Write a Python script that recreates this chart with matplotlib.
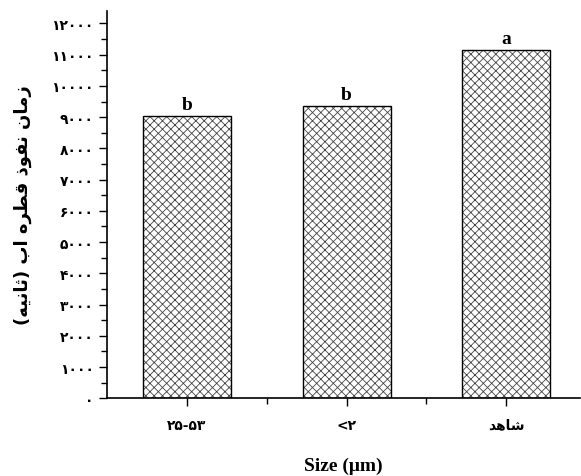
import matplotlib.pyplot as plt
import numpy as np

plt.rcParams['hatch.linewidth'] = 0.6

# Persian text is given in presentation forms, visual (left-to-right) order,
# since matplotlib does no Arabic shaping or bidi
# "زمان نفوذ قطره اب (ثانیه)"
ylabel = "(\uFEEA\uFEF4\uFEE7\uFE8E\uFE9B) \uFE8F\uFE8D \uFEE9\uFEAE\uFEC4\uFED7 \uFEAB\uFEEE\uFED4\uFEE7 \uFEE5\uFE8E\uFEE3\uFEAF"
categories = ["\u06F2\u06F5-\u06F5\u06F3", "<\u06F2", "\uFEAA\uFEEB\uFE8E\uFEB7"]  # ۲۵-۵۳, <۲, شاهد
values = [9050, 9350, 11150]
letters = ["b", "b", "a"]
yticks = [0, 1000, 2000, 3000, 4000, 5000, 6000, 7000, 8000, 9000, 10000, 11000, 12000]
ytick_labels = ["\u06F0", "\u06F1\u06F0\u06F0\u06F0", "\u06F2\u06F0\u06F0\u06F0", "\u06F3\u06F0\u06F0\u06F0",
                "\u06F4\u06F0\u06F0\u06F0", "\u06F5\u06F0\u06F0\u06F0", "\u06F6\u06F0\u06F0\u06F0",
                "\u06F7\u06F0\u06F0\u06F0", "\u06F8\u06F0\u06F0\u06F0", "\u06F9\u06F0\u06F0\u06F0",
                "\u06F1\u06F0\u06F0\u06F0\u06F0", "\u06F1\u06F1\u06F0\u06F0\u06F0", "\u06F1\u06F2\u06F0\u06F0\u06F0"]

fig = plt.figure(figsize=(5.81, 4.77), dpi=100)
ax = fig.add_axes([0.184, 0.163, 0.814, 0.812])

x = np.arange(len(categories))
ax.bar(x, values, width=0.55, color='white', edgecolor='#444444', linewidth=0, hatch='xxxx')
ax.bar(x, values, width=0.55, color='none', edgecolor='black', linewidth=1.0)

for xi, v, t in zip(x, values, letters):
    ax.annotate(t, (xi, v), xytext=(0, 2), textcoords='offset points', ha='center', va='bottom',
                fontsize=14, fontweight='bold', family='Liberation Serif')

ax.set_xlim(-0.5, 2.46)
ax.set_ylim(0, 12400)
ax.set_xticks(x)
ax.set_xticklabels(categories, fontsize=10, fontweight='bold', family='DejaVu Sans')
ax.set_xticks([0.5, 1.5], minor=True)
ax.set_yticks(yticks)
ax.set_yticklabels(ytick_labels, fontsize=10, fontweight='bold', family='DejaVu Sans')
ax.set_yticks(np.arange(500, 12400, 1000), minor=True)
ax.tick_params(axis='both', which='major', length=6, width=1.0, direction='out')
ax.tick_params(axis='both', which='minor', length=4, width=1.0, direction='out')
ax.tick_params(axis='x', pad=8)

for s in ['top', 'right']:
    ax.spines[s].set_visible(False)
for s in ['left', 'bottom']:
    ax.spines[s].set_linewidth(1.2)

ax.set_ylabel(ylabel, fontsize=13, fontweight='bold', family='DejaVu Sans', labelpad=14)
ax.set_xlabel('Size (\u03bcm)', fontsize=14, fontweight='bold', family='Liberation Serif', labelpad=18)

plt.savefig('out.png', dpi=100)
